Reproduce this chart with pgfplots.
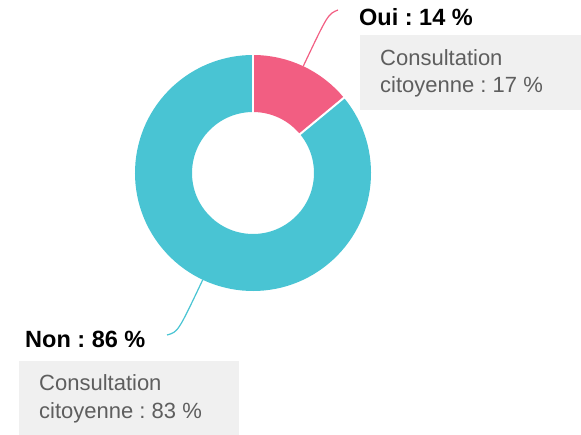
\documentclass[border=0pt]{standalone}
\usepackage{fontspec}
\setmainfont{Liberation Sans}
\usepackage{pgfplots}
\usepackage{pgfplotstable}
\pgfplotsset{compat=1.18}
\usetikzlibrary{calc}
\frenchspacing

\definecolor{ouicol}{HTML}{F25E82}
\definecolor{noncol}{HTML}{49C4D3}
\definecolor{boxgray}{HTML}{F0F0F0}
\definecolor{txtgray}{HTML}{5E5E5E}

\pgfplotstableread{
label value
Oui 14
Non 86
}\votes

\begin{document}
\begin{tikzpicture}
\pgfplotstablegetelem{0}{value}\of\votes \let\oui\pgfplotsretval
\pgfmathsetmacro{\aA}{90}
\pgfmathsetmacro{\aB}{90-3.6*\oui}
\pgfmathsetmacro{\aC}{90-360}
\pgfmathsetmacro{\mOui}{(\aA+\aB)/2}
\pgfmathsetmacro{\mNon}{(\aB+\aC)/2}
\begin{axis}[
  x=1pt, y=1pt,
  xmin=0, xmax=581, ymin=0, ymax=435,
  y dir=reverse,
  hide axis, scale only axis, clip=false,
]
\path (axis cs:0,0) rectangle (axis cs:581,435);
\coordinate (c) at (axis cs:253,173);
% donut slices (ring centre radius 89.5, width 57)
\draw[noncol, line width=57pt] (c) ++(\aB:89.5pt) arc[start angle=\aB, end angle=\aC, radius=89.5pt];
\draw[ouicol, line width=57pt] (c) ++(\aA:89.5pt) arc[start angle=\aA, end angle=\aB, radius=89.5pt];
\draw[white, line width=2pt] ($(c)+(\aA:60pt)$) -- ($(c)+(\aA:119pt)$);
\draw[white, line width=2pt] ($(c)+(\aB:60pt)$) -- ($(c)+(\aB:119pt)$);
% leader lines
\draw[ouicol, line width=1.2pt] ($(c)+(\mOui:118pt)$) .. controls (axis cs:328,14) .. (axis cs:338,10);
\draw[noncol, line width=1.2pt] ($(c)+(\mNon:118pt)$) .. controls (axis cs:178,332) .. (axis cs:167,335);
% boxes
\fill[boxgray] (axis cs:360,35) rectangle (axis cs:581,110);
\fill[boxgray] (axis cs:19,361) rectangle (axis cs:239,435);
% labels
\node[anchor=base west, inner sep=0pt, font=\fontsize{23.5}{27}\selectfont\bfseries] at (axis cs:359,26) {Oui : 14 \%};
\node[anchor=base west, inner sep=0pt, font=\fontsize{23.5}{27}\selectfont\bfseries] at (axis cs:25,348) {Non : 86 \%};
\node[anchor=base west, inner sep=0pt, text=txtgray, font=\fontsize{22}{27}\selectfont] at (axis cs:380,66) {Consultation};
\node[anchor=base west, inner sep=0pt, text=txtgray, font=\fontsize{22}{27}\selectfont] at (axis cs:380,93) {citoyenne : 17 \%};
\node[anchor=base west, inner sep=0pt, text=txtgray, font=\fontsize{22}{27}\selectfont] at (axis cs:39,391) {Consultation};
\node[anchor=base west, inner sep=0pt, text=txtgray, font=\fontsize{22}{27}\selectfont] at (axis cs:39,418) {citoyenne : 83 \%};
\end{axis}
\end{tikzpicture}
\end{document}
